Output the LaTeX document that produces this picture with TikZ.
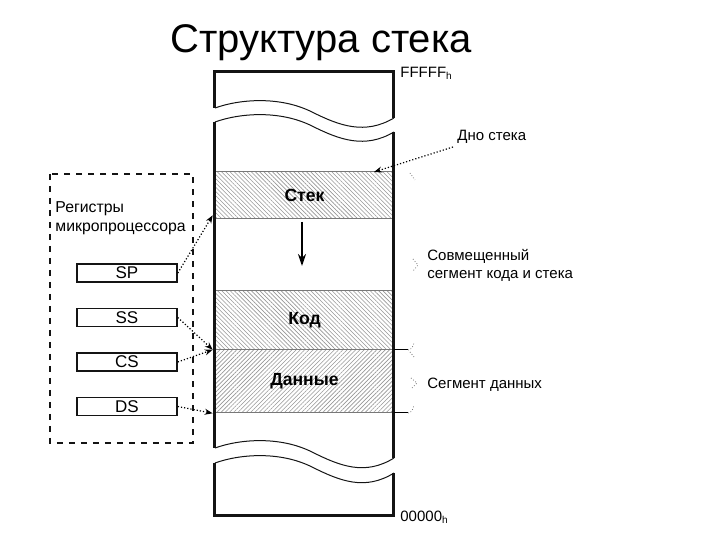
\documentclass[tikz,border=0pt]{standalone}
\usepackage{fontspec}
\setmainfont{Liberation Sans}
\usetikzlibrary{patterns.meta,arrows.meta}
\definecolor{StackBlack}{RGB}{20,20,20}
\definecolor{StackGray}{RGB}{120,120,120}
\definecolor{StackHatch}{RGB}{150,150,150}

\tikzset{
	block/.style={draw=StackGray, line width=0.5pt, inner sep=0pt, minimum width=89.5pt,
		font=\fontsize{8.8}{8.8}\selectfont\bfseries},
	hatchA/.style={pattern={Lines[angle=-45,distance=1.5pt,line width=0.3pt]}, pattern color=StackHatch},
	hatchB/.style={pattern={Lines[angle=45,distance=1.5pt,line width=0.3pt]}, pattern color=StackHatch},
	reg/.style={draw=StackBlack, line width=0.8pt, inner sep=0pt, minimum width=50pt, minimum height=9pt,
		font=\fontsize{8.5}{8.5}\selectfont},
	label/.style={anchor=west, inner sep=0pt, align=left, font=\fontsize{7.5}{9}\selectfont},
	ptr/.style={densely dotted, line width=0.6pt, -{Stealth[length=4pt,width=3pt]}},
	brace/.style={densely dotted, line width=0.4pt, draw=StackGray},
	wave/.style={line width=0.5pt, draw=StackBlack}
}

\begin{document}
\begin{tikzpicture}[x=0.5pt,y=-0.5pt]
		\useasboundingbox (0,0) rectangle (720,540);
		% title
		\node (title) at (321,43) {\fontsize{20}{20}\selectfont Структура стека};
		% memory blocks
		\node[block, hatchA, minimum height=23.5pt] (stek) at (304.5,195.5) {Стек};
		\node[block, hatchA, minimum height=29.5pt] (kod) at (304.5,320.5) {Код};
		\node[block, hatchB, minimum height=31.5pt] (dannye) at (304.5,381.5) {Данные};
		\coordinate (growTop) at (302,222);
		\coordinate (growEnd) at (302,266);
		\draw[line width=0.6pt, -{Stealth[length=6pt,width=4pt]}] (growTop) -- (growEnd);
		% memory outline with breaks
		\draw[line width=1.5pt, draw=StackBlack]
		(215,108) -- (215,72) -- (394,72) -- (394,118);
		\draw[line width=1.5pt, draw=StackBlack]
		(215,122) -- (215,448);
		\draw[line width=1.5pt, draw=StackBlack]
		(394,132) -- (394,458);
		\draw[line width=1.5pt, draw=StackBlack]
		(215,463) -- (215,516) -- (394,516) -- (394,473);
		\draw[wave] (215,108) .. controls (240,99) and (280,96) .. (312,112) .. controls (340,126) and (365,135) .. (394,118);
		\draw[wave] (215,122) .. controls (240,113) and (280,110) .. (312,126) .. controls (340,140) and (365,149) .. (394,132);
		\draw[wave] (215,448) .. controls (240,439) and (280,436) .. (312,452) .. controls (340,466) and (365,476) .. (394,458);
		\draw[wave] (215,463) .. controls (240,454) and (280,451) .. (312,467) .. controls (340,481) and (365,491) .. (394,473);
		% addresses
		\node[label, font=\fontsize{7.5}{7.5}\selectfont] (top) at (400,73) {FFFFF\raisebox{-0.25ex}{\fontsize{5}{5}\selectfont h}};
		\node[label, font=\fontsize{7.5}{7.5}\selectfont] (bottom) at (400,517) {00000\raisebox{-0.25ex}{\fontsize{5}{5}\selectfont h}};
		% registers
		\draw[dashed, line width=0.8pt, draw=StackBlack] (50,174) rectangle (193,443);
		\node[label, font=\fontsize{7.9}{9.5}\selectfont] (regs) at (55,218) {Регистры\\микропроцессора};
		\node[reg] (sp) at (127,273) {SP};
		\node[reg] (ss) at (127,317.5) {SS};
		\node[reg] (cs) at (127,362) {CS};
		\node[reg] (ds) at (127,406.5) {DS};
		\draw[ptr] (sp.east) -- ([xshift=-1pt,yshift=2pt]stek.south west);
		\draw[ptr] (ss.east) -- ([xshift=-1pt]dannye.north west);
		\draw[ptr] (cs.east) -- ([xshift=-1pt]dannye.north west);
		\draw[ptr] (ds.east) -- ([xshift=-1pt]dannye.south west);
		% right side notes
		\node[label] (dno) at (457,137) {Дно стека};
		\coordinate (dnoTip) at (374,172);
		\draw[ptr] ([xshift=-2pt,yshift=-5pt]dno.west) -- (dnoTip);
		\node[label] (shared) at (427,265.5) {Совмещенный\\сегмент кода и стека};
		\node[label] (dataseg) at (427,385) {Сегмент данных};
		\draw[brace] (410,173) -- (415,180);
		\draw[brace] (413,259) -- (418,265) -- (413,271);
		\draw[line width=0.5pt] (394,350) -- (408,350);
		\draw[brace] (408,350) .. controls (411,350) and (413,347) .. (414,343);
		\draw[brace] (410,352) -- (414,357);
		\draw[brace] (411,378) -- (417,383) -- (411,389);
		\draw[line width=0.5pt] (394,413) -- (408,413);
		\draw[brace] (408,413) .. controls (411,413) and (413,410) .. (414,405);
	\end{tikzpicture}
\end{document}
